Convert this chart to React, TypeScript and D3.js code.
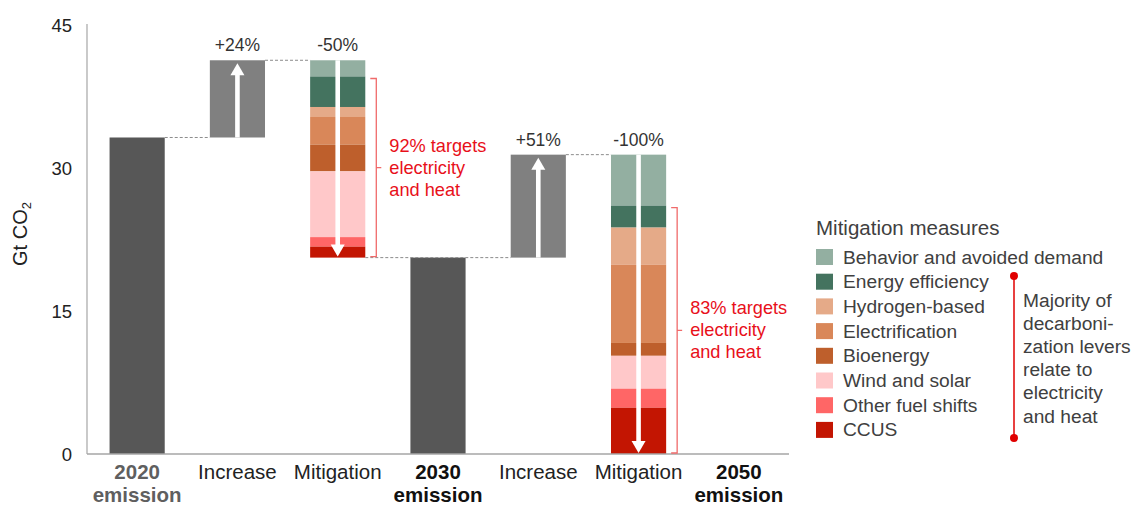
import React from "react";
import * as d3 from "d3";

const categoryIds = ["e2020", "inc1", "mit1", "e2030", "inc2", "mit2", "e2050"];
const categoryLines = [
  ["2020", "emission"],
  ["Increase"],
  ["Mitigation"],
  ["2030", "emission"],
  ["Increase"],
  ["Mitigation"],
  ["2050", "emission"],
];
const emission2020 = 33.2;
const increase2030 = 8.1;
const increase2050 = 10.8;
const measures = [
  "Behavior and avoided demand",
  "Energy efficiency",
  "Hydrogen-based",
  "Electrification",
  "Bioenergy",
  "Wind and solar",
  "Other fuel shifts",
  "CCUS",
];
const measureColors = ["#93AFA1", "#44735F", "#E5AA88", "#D98759", "#BE5F2C", "#FFC8C9", "#FF6666", "#C31502"];
const mitigation2030 = [1.7, 3.2, 1.05, 2.9, 2.8, 6.9, 1.0, 1.15];
const mitigation2050 = [5.35, 2.3, 3.9, 8.2, 1.35, 3.45, 2.0, 4.85];
const yTicks = [0, 15, 30, 45];
const changeLabels = ["+24%", "-50%", "+51%", "-100%"];
const bracketTexts = [
  ["92% targets", "electricity", "and heat"],
  ["83% targets", "electricity", "and heat"],
];
const noteLines = ["Majority of", "decarboni-", "zation levers", "relate to", "electricity", "and heat"];

const FONT = "'Liberation Sans', Arial, sans-serif";

export default function App() {
  const W = 1134, H = 505;
  const x = d3.scaleBand<string>().domain(categoryIds).range([87, 789]).paddingInner(0.45).paddingOuter(0.225);
  const y = d3.scaleLinear().domain([0, 45]).range([454, 25]);
  const bw = x.bandwidth();

  const sum1 = d3.sum(mitigation2030);
  const top1 = emission2020 + increase2030;
  const e2030 = top1 - sum1;
  const top2 = e2030 + increase2050;

  const stack = (vals: number[], top: number) => {
    let cur = top;
    return vals.map((v, i) => {
      const y0 = cur;
      cur -= v;
      return { i, hi: y0, lo: cur };
    });
  };
  const seg1 = stack(mitigation2030, top1);
  const seg2 = stack(mitigation2050, top2);

  const cx = (id: string) => (x(id) as number) + bw / 2;

  const upArrow = (id: string, lo: number, hi: number) => {
    const c = cx(id);
    const yb = y(lo), yt = y(hi) + 3;
    return (
      <g>
        <rect x={c - 2.3} y={yt + 10} width={4.6} height={yb - yt - 10} fill="#fff" />
        <path d={`M${c - 7},${yt + 12} L${c},${yt} L${c + 7},${yt + 12} Z`} fill="#fff" />
      </g>
    );
  };
  const downArrow = (id: string, hi: number, lo: number) => {
    const c = cx(id);
    const yt = y(hi), yb = y(lo) - 1;
    return (
      <g>
        <rect x={c - 2.3} y={yt} width={4.6} height={yb - yt - 10} fill="#fff" />
        <path d={`M${c - 7},${yb - 12} L${c},${yb} L${c + 7},${yb - 12} Z`} fill="#fff" />
      </g>
    );
  };

  const dashed = (x1: number, x2: number, v: number) => (
    <line x1={x1} x2={x2} y1={y(v)} y2={y(v)} stroke="#8c8c8c" strokeWidth={1} strokeDasharray="3,2" />
  );

  const bracket = (id: string, hiV: number, loV: number, lines: string[], textY: number) => {
    const bx = (x(id) as number) + bw + 11;
    const yt = y(hiV) + 2, yb = y(loV) - 1;
    const ym = (yt + yb) / 2;
    return (
      <g>
        <path d={`M${bx - 6},${yt} L${bx},${yt} L${bx},${yb} L${bx - 6},${yb} M${bx},${ym} L${bx + 5},${ym}`} fill="none" stroke="#F06A6A" strokeWidth={1.3} />
        {lines.map((t, k) => (
          <text key={k} x={bx + 13} y={textY + k * 22} fontSize={18.2} fill="#E8101A" dominantBaseline="central">{t}</text>
        ))}
      </g>
    );
  };

  const legendX = 816, legendY0 = 257, legendStep = 24.7;

  return (
    <svg width={W} height={H} style={{ position: "absolute", left: 0, top: 0, fontFamily: FONT }}>
      <rect width={W} height={H} fill="#fff" />
      {/* axes */}
      <line x1={87} x2={87} y1={24} y2={454} stroke="#a6a6a6" strokeWidth={1.2} />
      {yTicks.map((t) => (
        <text key={t} x={72} y={y(t)} textAnchor="end" dominantBaseline="central" fontSize={18.5} fill="#222">{t}</text>
      ))}
      <text transform={`translate(27,234) rotate(-90)`} textAnchor="middle" fontSize={20} fill="#222">
        Gt CO<tspan fontSize={13} dy={4}>2</tspan>
      </text>

      {/* bars */}
      <rect x={x("e2020")} y={y(emission2020)} width={bw} height={y(0) - y(emission2020)} fill="#575757" />
      <rect x={x("inc1")} y={y(top1)} width={bw} height={y(emission2020) - y(top1)} fill="#808080" />
      {seg1.map((s) => (
        <rect key={s.i} x={x("mit1")} y={y(s.hi)} width={bw} height={y(s.lo) - y(s.hi)} fill={measureColors[s.i]} />
      ))}
      <rect x={x("e2030")} y={y(e2030)} width={bw} height={y(0) - y(e2030)} fill="#575757" />
      <rect x={x("inc2")} y={y(top2)} width={bw} height={y(e2030) - y(top2)} fill="#808080" />
      {seg2.map((s) => (
        <rect key={s.i} x={x("mit2")} y={y(s.hi)} width={bw} height={y(s.lo) - y(s.hi)} fill={measureColors[s.i]} />
      ))}

      {upArrow("inc1", emission2020, top1)}
      {downArrow("mit1", top1, e2030)}
      {upArrow("inc2", e2030, top2)}
      {downArrow("mit2", top2, 0)}

      {/* connectors */}
      {dashed((x("e2020") as number) + bw, x("inc1") as number, emission2020)}
      {dashed((x("inc1") as number) + bw, x("mit1") as number, top1)}
      {dashed((x("mit1") as number) + bw, x("inc2") as number, e2030)}
      {dashed((x("inc2") as number) + bw, x("mit2") as number, top2)}

      <line x1={87} x2={789} y1={454} y2={454} stroke="#a6a6a6" strokeWidth={1.5} />

      {/* change labels */}
      {[["inc1", top1], ["mit1", top1], ["inc2", top2], ["mit2", top2]].map(([id, v], k) => (
        <text key={k} x={cx(id as string)} y={y(v as number) - 15} textAnchor="middle" dominantBaseline="central" fontSize={17.5} fill="#333">{changeLabels[k]}</text>
      ))}

      {/* category labels */}
      {categoryIds.map((id, k) => {
        const lines = categoryLines[k];
        const bold = lines.length > 1;
        const fill = k === 0 ? "#5f5f5f" : "#111";
        return (
          <text key={id} x={cx(id)} textAnchor="middle" fontSize={20.5} fontWeight={bold ? "bold" : "normal"} fill={bold ? fill : "#222"}>
            {lines.map((l, j) => (
              <tspan key={j} x={cx(id)} y={479 + j * 23}>{l}</tspan>
            ))}
          </text>
        );
      })}

      {/* brackets */}
      {bracket("mit1", seg1[1].hi, e2030, bracketTexts[0], 146)}
      {bracket("mit2", seg2[1].hi, 0, bracketTexts[1], 308)}

      {/* legend */}
      <text x={legendX} y={227} fontSize={20.5} fill="#404040" dominantBaseline="central">Mitigation measures</text>
      {measures.map((m, i) => (
        <g key={m}>
          <rect x={legendX} y={legendY0 + i * legendStep - 8} width={17} height={16} fill={measureColors[i]} />
          <text x={843} y={legendY0 + i * legendStep} fontSize={19.2} fill="#404040" dominantBaseline="central">{m}</text>
        </g>
      ))}
      <line x1={1014} x2={1014} y1={276} y2={438} stroke="#E00000" strokeWidth={1.5} />
      <circle cx={1014} cy={276} r={4} fill="#E00000" />
      <circle cx={1014} cy={438} r={4} fill="#E00000" />
      {noteLines.map((t, k) => (
        <text key={k} x={1023} y={300 + k * 23.2} fontSize={19.2} fill="#404040" dominantBaseline="central">{t}</text>
      ))}
    </svg>
  );
}
